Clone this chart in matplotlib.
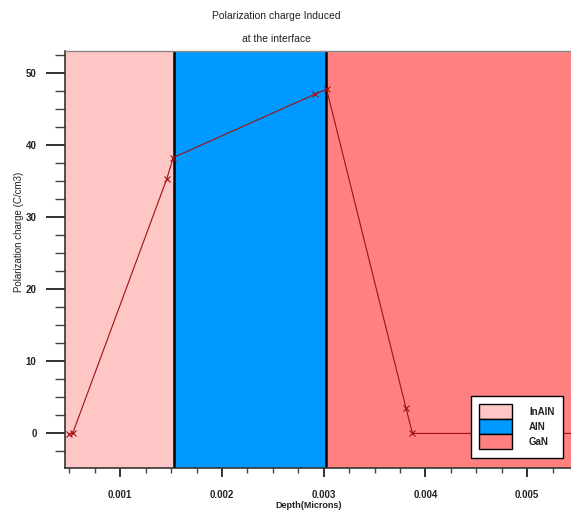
import matplotlib
matplotlib.use("Agg")
import matplotlib.pyplot as plt
from matplotlib.patches import Patch
from matplotlib.ticker import MultipleLocator, FixedFormatter, FixedLocator

plt.rcParams['font.family'] = ['Liberation Sans', 'DejaVu Sans']

# Data
depth = [0.000496, 0.000532, 0.001456, 0.001521, 0.002913, 0.003028, 0.003807, 0.003872, 0.0056]
charge = [-0.1, 0.0, 35.3, 38.3, 47.1, 47.8, 3.6, 0.0, 0.0]

regions = ["InAlN", "AlN", "GaN"]
region_bounds = [(0.0004, 0.001527), (0.001527, 0.003024), (0.003024, 0.006)]
region_colors = ["#FFC6C6", "#0099FF", "#FF8080"]

xticks = [0.001, 0.002, 0.003, 0.004, 0.005]
xtick_labels = ["0.001", "0.002", "0.003", "0.004", "0.005"]
yticks = [0, 10, 20, 30, 40, 50]
ytick_labels = ["0", "10", "20", "30", "40", "50"]

fig = plt.figure(figsize=(5.71, 5.11), dpi=100)
ax = fig.add_axes([65/571, 1-468/511, 1-65/571, (468-51)/511])

for (x0, x1), c in zip(region_bounds, region_colors):
    ax.axvspan(x0, x1, facecolor=c, edgecolor='white', linewidth=0.8, zorder=0)
for (x0, x1) in region_bounds[1:]:
    ax.axvline(x0, color='black', linewidth=1.8, zorder=1)

ax.plot(depth, charge, color='#A01010', linewidth=0.8, marker='x',
        markersize=5, markeredgewidth=0.8, zorder=3)

ax.set_xlim(0.000457, 0.00543)
ax.set_ylim(-4.8, 53.1)

ax.xaxis.set_major_locator(FixedLocator(xticks))
ax.xaxis.set_major_formatter(FixedFormatter(xtick_labels))
ax.xaxis.set_minor_locator(MultipleLocator(0.00025))
ax.yaxis.set_major_locator(FixedLocator(yticks))
ax.yaxis.set_major_formatter(FixedFormatter(ytick_labels))
ax.yaxis.set_minor_locator(MultipleLocator(2.5))

ax.tick_params(axis='x', which='major', direction='out', length=6.5, width=1.3,
               pad=9, labelsize=7, colors='#222222')
ax.tick_params(axis='x', which='minor', direction='out', length=3.6, width=1.0, colors='#444444')
ax.tick_params(axis='y', which='major', direction='out', length=13.5, width=1.3,
               pad=7, labelsize=7, colors='#222222')
ax.tick_params(axis='y', which='minor', direction='out', length=7, width=1.0, colors='#444444')
for lab in ax.get_xticklabels() + ax.get_yticklabels():
    lab.set_fontweight('bold')

for s in ['left', 'bottom']:
    ax.spines[s].set_color('#333333')
    ax.spines[s].set_linewidth(1.2)
ax.spines['top'].set_color('#888888')
ax.spines['top'].set_linewidth(1.0)
ax.spines['right'].set_visible(False)

fig.text(276/571, 1-16/511, "Polarization charge Induced", ha='center', va='center',
         fontsize=7.5, color='#222222')
fig.text(276/571, 1-39/511, "at the interface", ha='center', va='center',
         fontsize=7.5, color='#222222')
fig.text(309/571, 1-505/511, "Depth(Microns)", ha='center', va='center',
         fontsize=6.5, fontweight='bold', color='#222222')
fig.text(19/571, 1-232/511, "Polarization charge (C/cm3)", ha='center', va='center',
         rotation=90, fontsize=7, color='#222222')

handles = [Patch(facecolor=c, edgecolor='black', linewidth=1.0, label=r)
           for r, c in zip(regions, region_colors)]
leg = ax.legend(handles=handles, loc='upper left',
                bbox_to_anchor=((470.7-65)/(571-65), 1-(396-51)/(468-51)),
                bbox_transform=ax.transAxes, frameon=True, fancybox=False,
                framealpha=1.0, fontsize=7, handlelength=3.4, handleheight=2.0,
                labelspacing=0.0, handletextpad=1.75, borderpad=0.85,
                borderaxespad=0)
leg.get_frame().set_edgecolor('black')
leg.get_frame().set_linewidth(1.0)
for t in leg.get_texts():
    t.set_fontweight('bold')
    t.set_color('#222222')

fig.savefig("out.png", dpi=100)
